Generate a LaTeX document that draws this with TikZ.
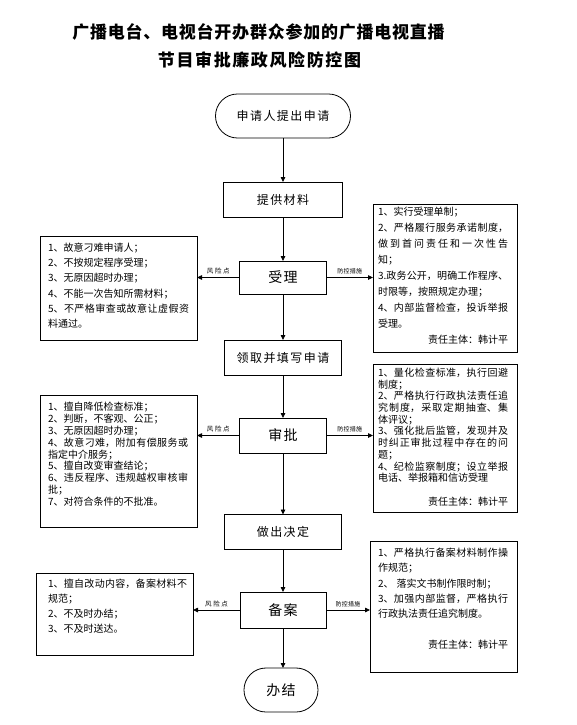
\documentclass[tikz,border=0pt]{standalone}
\usepackage{fontspec}
\setmainfont{Noto Sans CJK SC}
\usetikzlibrary{arrows.meta}
\XeTeXlinebreaklocale "zh"
\XeTeXlinebreakskip=0pt plus 3pt
% #1 width, #2 height, #3 top pad, #4 left pad, #5 right pad, #6 line pitch, #7 text
\newcommand\sidetext[7]{\parbox[c][#2pt][t]{#1pt}{\fontsize{10}{#6}\selectfont\leftskip=#4pt\rightskip=#5pt\parindent=0pt\vspace*{#3pt}#7}}
\tikzset{
  mainbox/.style={draw, line width=0.8pt, inner sep=0pt, outer sep=0pt,
    font=\fontsize{12}{14}\selectfont\addfontfeature{LetterSpace=12}},
  bigbox/.style={mainbox, font=\fontsize{14}{16}\selectfont\addfontfeature{LetterSpace=9}},
  terminal/.style={mainbox, rounded corners=21.9pt},
  sidebox/.style={draw, line width=0.8pt, inner sep=0pt, outer sep=0pt, anchor=north west},
  arr/.style={line width=0.8pt, -{Triangle[length=5pt,width=4.5pt]}},
  risklab/.style={font=\fontsize{6.5}{7}\selectfont\addfontfeature{LetterSpace=25}, inner sep=1pt, above, yshift=2pt},
  ctrllab/.style={font=\fontsize{6}{7}\selectfont\addfontfeature{LetterSpace=5}, inner sep=1pt, above, yshift=2pt},
  titlefont/.style={font=\fontsize{17}{20}\selectfont\bfseries\addfontfeature{LetterSpace=#1}}
}
\begin{document}
\begin{tikzpicture}[x=1pt,y=-1pt]
\useasboundingbox (0,0) rectangle (577,725);

% title
\node[titlefont=4.5] (t1) at (258.5,32) {广播电台、电视台开办群众参加的广播电视直播};
\node[titlefont=9.5] (t2) at (259.5,60) {节目审批廉政风险防控图};

% main flow
\node[terminal, minimum width=135pt, minimum height=44pt] (start) at (283,116) {申请人提出申请};
\node[mainbox, minimum width=119pt, minimum height=35pt] (tigong) at (283,199.5) {提供材料};
\node[bigbox, minimum width=87pt, minimum height=33pt] (shouli) at (283,277.5) {受理};
\node[mainbox, minimum width=117pt, minimum height=35pt] (lingqu) at (283,357.5) {领取并填写申请};
\node[bigbox, minimum width=87pt, minimum height=35pt] (shenpi) at (283,435.5) {审批};
\node[mainbox, minimum width=117pt, minimum height=35pt] (zuochu) at (283,532) {做出决定};
\node[bigbox, minimum width=86pt, minimum height=36pt] (beian) at (283,610) {备案};
\node[terminal, bigbox, rounded corners=21.9pt, minimum width=74pt, minimum height=44pt] (banjie) at (281,690) {办结};

% side boxes
\node[sidebox] (risk1) at (40,236) {\sidetext{157}{104}{7}{8}{8}{15.2}{%
1、故意刁难申请人；\par
2、不按规定程序受理；\par
3、无原因超时办理；\par
4、不能一次告知所需材料；\par
5、不严格审查或故意让虚假资\linebreak 料通过。\par}};

\node[sidebox] (ctrl1) at (373,204) {\sidetext{144}{148}{3}{5}{9}{16}{%
1、实行受理单制；\par
2、严格履行服务承诺制度，\linebreak 做到首问责任和一次性告\linebreak 知；\par
3.政务公开，明确工作程序、\linebreak 时限等，按照规定办理；\par
4、内部监督检查，投诉举报\linebreak 受理。\par
\hfill 责任主体：韩计平\par}};

\node[sidebox] (risk2) at (40,395) {\sidetext{157}{132}{7}{8}{9}{11.9}{%
1、擅自降低检查标准；\par
2、判断，不客观、公正；\par
3、无原因超时办理；\par
4、故意刁难，附加有偿服务或\linebreak 指定中介服务；\par
5、擅自改变审查结论；\par
6、违反程序、违规越权审核审\linebreak 批；\par
7、对符合条件的不批准。\par}};

\node[sidebox] (ctrl2) at (373,364) {\sidetext{144}{148}{4}{5}{9}{11.7}{%
1、量化检查标准，执行回避\linebreak 制度；\par
2、严格执行行政执法责任追\linebreak 究制度，采取定期抽查、集\linebreak 体评议；\par
3、强化批后监管，发现并及\linebreak 时纠正审批过程中存在的问\linebreak 题；\par
4、纪检监察制度；设立举报\linebreak 电话、举报箱和信访受理\par
\leavevmode\par
\hfill 责任主体：韩计平\par}};

\node[sidebox] (risk3) at (36,573) {\sidetext{157}{82}{6}{12}{6}{15}{%
1、擅自改动内容，备案材料不\linebreak 规范；\par
2、不及时办结；\par
3、不及时送达。\par}};

\node[sidebox] (ctrl3) at (370,541) {\sidetext{147}{131}{7}{8}{9}{15.3}{%
1、严格执行备案材料制作操\linebreak 作规范；\par
2、\hspace{3pt}落实文书制作限时制；\par
3、加强内部监督，严格执行\linebreak 行政执法责任追究制度。\par
\leavevmode\par
\hfill 责任主体：韩计平\par}};

% vertical flow arrows
\draw[arr] (start.south) -- (start.south |- tigong.north);
\draw[arr] (tigong.south) -- (tigong.south |- shouli.north);
\draw[arr] (shouli.south) -- (shouli.south |- lingqu.north);
\draw[arr] (lingqu.south) -- (lingqu.south |- shenpi.north);
\draw[arr] (shenpi.south) -- (shenpi.south |- zuochu.north);
\draw[arr] (zuochu.south) -- (zuochu.south |- beian.north);
\draw[arr] (beian.south) -- (beian.south |- banjie.north);

% side arrows
\draw[arr] (shouli.west) -- node[risklab] {风险点} (shouli.west -| risk1.east);
\draw[arr] (shouli.east) -- node[ctrllab] {防控措施} (shouli.east -| ctrl1.west);
\draw[arr] (shenpi.west) -- node[risklab] {风险点} (shenpi.west -| risk2.east);
\draw[arr] (shenpi.east) -- node[ctrllab] {防控措施} (shenpi.east -| ctrl2.west);
\draw[arr] (beian.west) -- node[risklab] {风险点} (beian.west -| risk3.east);
\draw[arr] (beian.east) -- node[ctrllab] {防控措施} (beian.east -| ctrl3.west);
\end{tikzpicture}
\end{document}
